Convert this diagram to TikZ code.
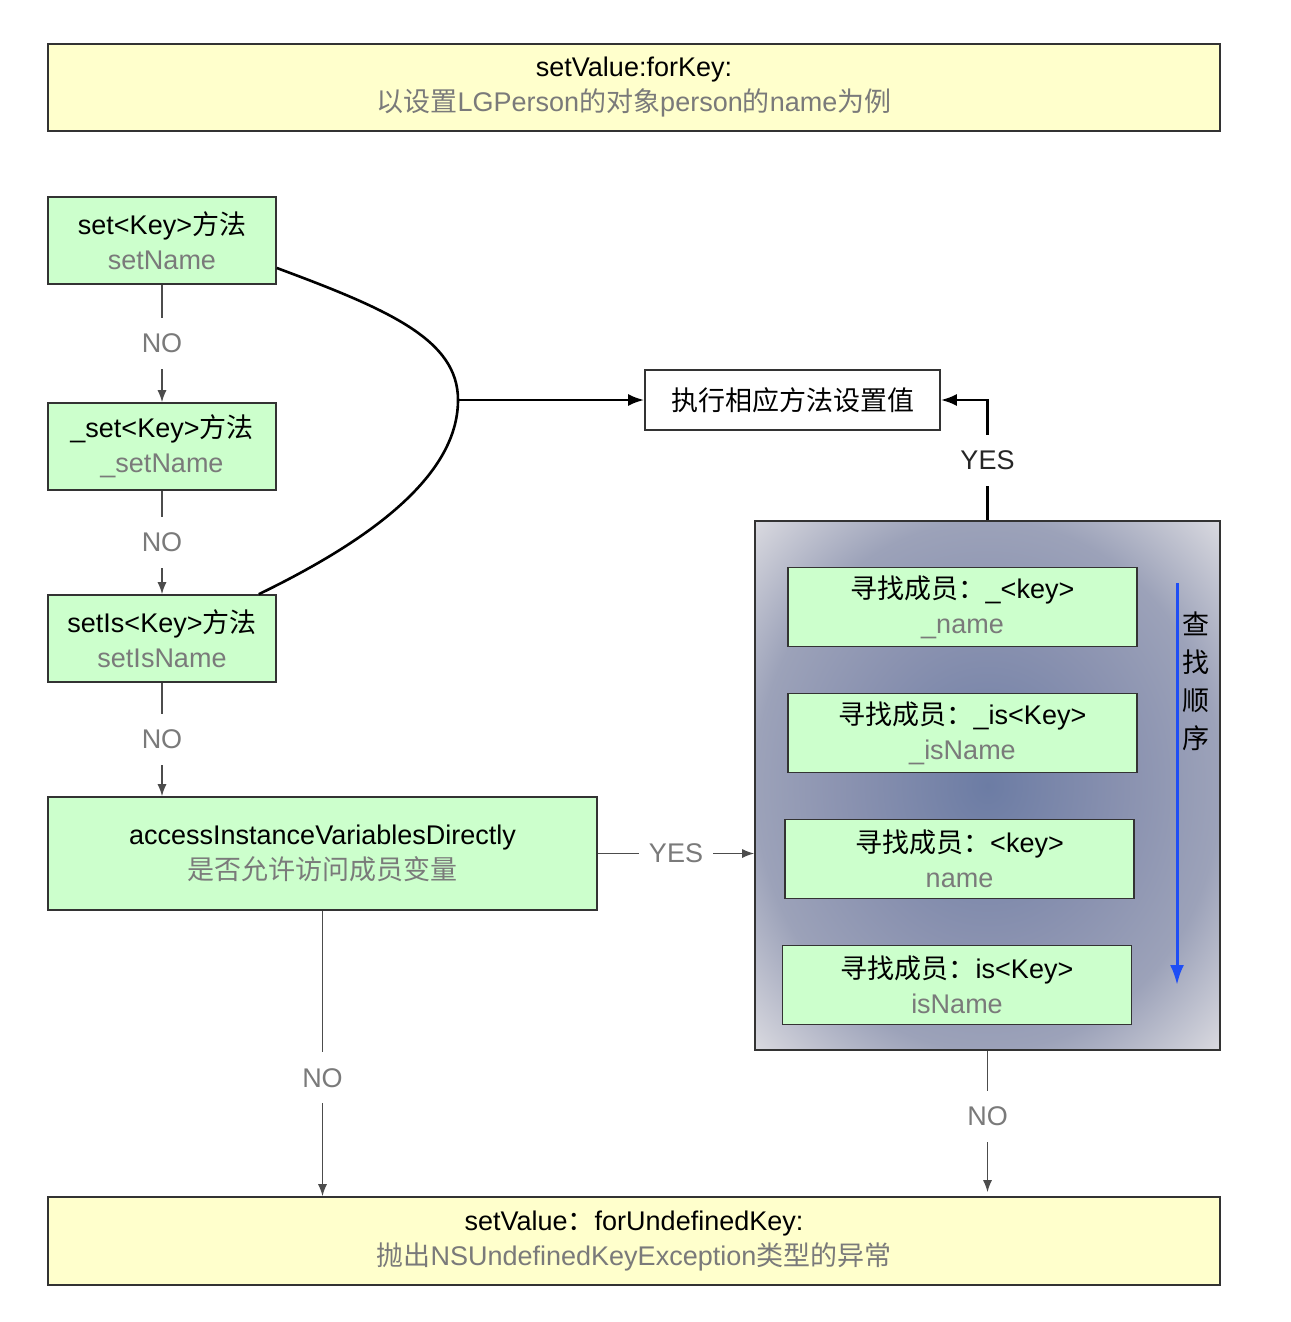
\documentclass[tikz,border=0pt]{standalone}
\usepackage{fontspec}
\setmainfont{Liberation Sans}
\newfontfamily\cjkfont{Noto Sans CJK SC}
\usetikzlibrary{arrows.meta,positioning}

\definecolor{notefill}{HTML}{FFFFCC}
\definecolor{stepfill}{HTML}{CCFFCC}
\definecolor{subgray}{HTML}{7A7A7A}
\definecolor{orderblue}{HTML}{1F4EF5}
\definecolor{poolcore}{HTML}{6C7CA4}
\definecolor{poolmid}{HTML}{8A92B0}
\definecolor{pooledge}{HTML}{9CA2B9}
\definecolor{poolcorner}{HTML}{DADAE0}

\pgfdeclareradialshading{poolglow}{\pgfpoint{0bp}{0bp}}{color(0bp)=(poolcore); color(15bp)=(poolmid); color(25bp)=(pooledge); color(35.4bp)=(poolcorner); color(50bp)=(poolcorner)}

\newcommand{\cn}[1]{{\cjkfont #1}}
\newcommand{\subline}[1]{\textcolor{subgray}{#1}}

\begin{document}
\begin{tikzpicture}[x=0.5pt, y=-0.5pt, >={Latex[length=6pt,width=4.5pt]},
  every node/.style={font=\fontsize{13.5}{17.5}\selectfont},
  box/.style={draw=black!80, line width=0.8pt, align=center, inner sep=2pt},
  notebox/.style={box, fill=notefill, minimum width=586pt, minimum height=43.5pt},
  stepbox/.style={box, fill=stepfill, minimum width=114pt, minimum height=43.5pt},
  memberbox/.style={box, fill=stepfill, minimum width=174.5pt, minimum height=39.5pt},
  flow/.style={->, draw=black!70, line width=0.7pt},
  strong/.style={-{Latex[length=8pt,width=6pt]}, draw=black, line width=1.3pt},
  answer/.style={fill=white, text=subgray, inner xsep=5pt, inner ysep=8pt}]

  \useasboundingbox (0,0) rectangle (1290,1322);

  % Define nodes
  \node[notebox] (title) at (634,87.5) {setValue:forKey:\\ \subline{\cn{以设置}LGPerson\cn{的对象}person\cn{的}name\cn{为例}}};

  \node[stepbox] (setk) at (162,240.5) {set<Key>\cn{方法}\\ \subline{setName}};
  \node[stepbox] (usetk) at (162,446.5) {\_set<Key>\cn{方法}\\ \subline{\_setName}};
  \node[stepbox] (setis) at (162,638.5) {setIs<Key>\cn{方法}\\ \subline{setIsName}};
  \node[box, fill=stepfill, minimum width=274.5pt, minimum height=56.5pt] (access) at (322.5,853.5) {accessInstanceVariablesDirectly\\ \subline{\cn{是否允许访问成员变量}}};

  \node[box, fill=white, minimum width=147.5pt, minimum height=30pt] (exec) at (792.5,400) {\cn{执行相应方法设置值}};

  \node[box, shade, shading=poolglow, minimum width=232.5pt, minimum height=264.5pt] (pool) at (987.5,785.5) {};
  \node[memberbox] (m1) at (962.5,607) {\cn{寻找成员：}\_<key>\\ \subline{\_name}};
  \node[memberbox] (m2) at (962.5,733) {\cn{寻找成员：}\_is<Key>\\ \subline{\_isName}};
  \node[memberbox] (m3) at (959.5,859) {\cn{寻找成员：}<key>\\ \subline{name}};
  \node[memberbox] (m4) at (957,985) {\cn{寻找成员：}is<Key>\\ \subline{isName}};
  \node[align=center, font=\fontsize{13.5}{19}\selectfont] (order) at (1196,681) {\cn{查}\\ \cn{找}\\ \cn{顺}\\ \cn{序}};

  \node[notebox, minimum height=44pt] (fail) at (634,1241) {setValue\cn{：}forUndefinedKey:\\ \subline{\cn{抛出}NSUndefinedKeyException\cn{类型的异常}}};

  \coordinate (fork) at (458,400);
  \coordinate (ordertop) at (1177,583);
  \coordinate (orderend) at (1177,985);

  % Define edges
  \path
    (setk) edge[flow] node[answer] {NO} (usetk)
    (usetk) edge[flow] node[answer] {NO} (setis)
    (setis.south) edge[flow] node[answer] {NO} (setis.south |- access.north)
    (access.east) edge[flow] node[answer, inner ysep=2pt] {YES} (access.east -| pool.west)
    (access.south) edge[flow] node[answer, pos=0.585] {NO} (access.south |- fail.north)
    (pool.south) edge[flow, shorten >=2pt] node[answer, pos=0.45] {NO} (pool.south |- fail.north);

  \draw[strong, -] ([yshift=-13.75pt]setk.east) .. controls (390,310) and (458,340) .. (fork)
    .. controls (458,480) and (360,545) .. ([xshift=-9pt]setis.north east);
  \draw[strong] (fork) -- (exec);
  \draw[strong] (pool.north) |- node[answer, pos=0.25, text=black!85] {YES} (exec.east);

  \draw[-{Latex[length=10pt,width=7pt]}, orderblue, line width=1.5pt] (ordertop) -- (orderend);
\end{tikzpicture}
\end{document}
